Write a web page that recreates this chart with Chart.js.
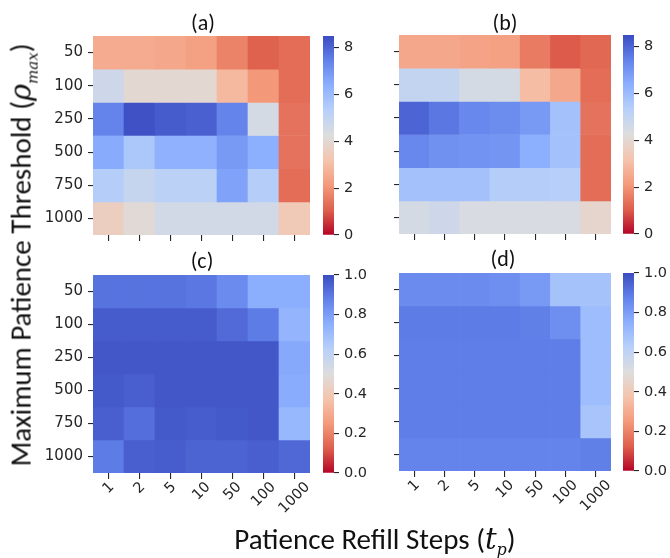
<!DOCTYPE html>
<html>
<head>
<meta charset="utf-8">
<script src="https://cdn.jsdelivr.net/npm/chart.js@4.4.1/dist/chart.umd.min.js"></script>
<style>
  body { margin: 0; background: #fff; }
  #fig { position: relative; width: 670px; height: 558px; overflow: hidden; font-family: Carlito, Calibri, Lato, sans-serif; color: #111; }
  #fig canvas { position: absolute; }
  .ttl { position: absolute; font-size: 22px; line-height: 22px; transform: translate(-50%, -50%); white-space: nowrap; }
  .axt { position: absolute; white-space: nowrap; transform: translate(-50%, -50%); }
  .axt i { font-family: "DejaVu Serif", serif; }
</style>
</head>
<body>
<div id="fig">
  <canvas id="hmA"></canvas><canvas id="cbA"></canvas>
  <canvas id="hmB"></canvas><canvas id="cbB"></canvas>
  <canvas id="hmC"></canvas><canvas id="cbC"></canvas>
  <canvas id="hmD"></canvas><canvas id="cbD"></canvas>
  <div class="ttl" style="left:203px;top:23px">(a)</div>
  <div class="ttl" style="left:505px;top:23px">(b)</div>
  <div class="ttl" style="left:202px;top:261px">(c)</div>
  <div class="ttl" style="left:503px;top:259px">(d)</div>
  <div class="axt" style="left:22px;top:255px;font-size:29px;transform:translate(-50%,-50%) rotate(-90deg)">Maximum Patience Threshold (<i>ρ</i><sub style="font-size:15px"><i>max</i></sub>)</div>
  <div class="axt" style="left:375px;top:540px;font-size:29px">Patience Refill Steps (<i>t</i><sub style="font-size:16px"><i>p</i></sub>)</div>
</div>
<script>
// columns: patience refill steps, rows: max patience threshold (top to bottom)
const refillSteps = ['1', '2', '5', '10', '50', '100', '1000'];
const thresholds = ['50', '100', '250', '500', '750', '1000'];

const panelA = [
  [2.55, 2.55, 2.45, 2.3, 1.7, 1.1, 1.3],
  [4.7, 4.0, 4.0, 4.0, 2.9, 2.1, 1.3],
  [7.4, 8.4, 8.2, 8.1, 7.4, 4.5, 1.4],
  [6.5, 5.6, 6.3, 6.3, 6.9, 6.4, 1.4],
  [5.4, 4.9, 5.2, 5.2, 6.7, 5.4, 1.3],
  [3.6, 4.1, 4.6, 4.6, 4.6, 4.6, 3.4],
];
const panelB = [
  [2.45, 2.45, 2.35, 2.3, 1.55, 1.0, 1.2],
  [5.0, 5.0, 4.5, 4.5, 3.0, 2.45, 1.3],
  [8.0, 7.65, 7.3, 7.2, 6.9, 5.8, 1.4],
  [7.3, 7.1, 7.05, 7.0, 6.4, 5.8, 1.3],
  [5.8, 5.8, 5.8, 5.4, 5.4, 5.3, 1.3],
  [4.5, 4.7, 4.4, 4.4, 4.4, 4.4, 3.9],
];
const panelC = [
  [0.91, 0.91, 0.91, 0.9, 0.85, 0.755, 0.755],
  [0.965, 0.965, 0.965, 0.965, 0.93, 0.89, 0.73],
  [0.975, 0.975, 0.975, 0.975, 0.975, 0.975, 0.77],
  [0.97, 0.955, 0.975, 0.975, 0.975, 0.975, 0.76],
  [0.955, 0.92, 0.97, 0.96, 0.97, 0.975, 0.72],
  [0.89, 0.955, 0.96, 0.945, 0.945, 0.955, 0.935],
];
const panelD = [
  [0.85, 0.85, 0.85, 0.84, 0.81, 0.68, 0.68],
  [0.89, 0.89, 0.89, 0.89, 0.88, 0.84, 0.70],
  [0.885, 0.885, 0.885, 0.885, 0.885, 0.885, 0.70],
  [0.885, 0.885, 0.885, 0.885, 0.885, 0.885, 0.70],
  [0.885, 0.885, 0.885, 0.885, 0.885, 0.885, 0.67],
  [0.87, 0.87, 0.87, 0.87, 0.87, 0.87, 0.88],
];

const rewardMax = 8.5;
const rewardTicks = [0, 2, 4, 6, 8];
const rateMax = 1.0;
const rateTicks = [0, 0.2, 0.4, 0.6, 0.8, 1.0];

// coolwarm anchors (t from blue to red)
const coolwarm = [
  [0.0, [59, 76, 192]], [0.125, [98, 130, 234]], [0.25, [141, 176, 254]],
  [0.375, [184, 208, 249]], [0.5, [221, 221, 221]], [0.625, [245, 196, 173]],
  [0.75, [244, 154, 123]], [0.875, [222, 96, 77]], [1.0, [180, 4, 38]],
];

function coolwarmAt(t) {
  t = Math.min(1, Math.max(0, t));
  for (let i = 1; i < coolwarm.length; i++) {
    const [t1, c1] = coolwarm[i];
    const [t0, c0] = coolwarm[i - 1];
    if (t <= t1) {
      const f = (t - t0) / (t1 - t0);
      const c = c0.map((v, k) => Math.round(v + (c1[k] - v) * f));
      return `rgb(${c[0]},${c[1]},${c[2]})`;
    }
  }
  return 'rgb(180,4,38)';
}
// reversed map: low values red, high values blue
const colorFor = (v, vmax) => coolwarmAt(1 - v / vmax);

const TEXT = '#262626';
const FONT = { family: 'DejaVu Sans', size: 14.5 };
Chart.defaults.font.family = FONT.family;
Chart.defaults.font.size = FONT.size;
Chart.defaults.color = TEXT;

const AX_W = 70;  // room for y tick labels
const PAD = 4;

// matplotlib-like rotated (45deg, centred) x tick labels
const rotatedXLabels = {
  id: 'rotatedXLabels',
  afterDraw(chart, args, opts) {
    if (!opts.show) return;
    const x = chart.scales.x;
    const c = chart.ctx;
    c.save();
    c.font = `${FONT.size}px "${FONT.family}"`;
    c.fillStyle = TEXT;
    c.textAlign = 'center';
    c.textBaseline = 'middle';
    x.getLabels().forEach((lab, i) => {
      const px = x.getPixelForTick(i);
      const w = c.measureText(lab).width;
      const half = (w + 11) * Math.SQRT1_2 / 2;
      c.save();
      c.translate(px, x.top + 8 + half);
      c.rotate(-Math.PI / 4);
      c.fillText(lab, 0, 0);
      c.restore();
    });
    c.restore();
  }
};

function makeHeatmap(id, values, vmax, geo, showY, showX) {
  const axH = showX ? 60 : 14;
  const cv = document.getElementById(id);
  cv.width = AX_W + geo.w + PAD;
  cv.height = PAD + geo.h + axH;
  cv.style.left = (geo.left - AX_W) + 'px';
  cv.style.top = (geo.top - PAD) + 'px';
  const n = thresholds.length;
  const tickGrid = { display: true, drawOnChartArea: false, drawTicks: true, tickLength: 5, color: TEXT, lineWidth: 1.1, offset: false };
  new Chart(cv, {
    type: 'bar',
    data: {
      labels: refillSteps,
      datasets: thresholds.map((th, r) => ({
        label: th,
        data: refillSteps.map(() => [n - 1 - r, n - r]),
        backgroundColor: values[r].map(v => colorFor(v, vmax)),
        borderWidth: 0,
        barPercentage: 1,
        categoryPercentage: 1,
        grouped: false,
      })),
    },
    options: {
      responsive: false,
      animation: false,
      events: [],
      layout: { padding: { top: PAD, right: PAD, left: 0, bottom: 0 } },
      plugins: { legend: { display: false }, tooltip: { enabled: false }, rotatedXLabels: { show: showX } },
      scales: {
        x: {
          type: 'category',
          offset: true,
          grid: { ...tickGrid, tickLength: 6 },
          border: { display: false },
          ticks: { display: false },
          afterFit: s => { s.height = axH; s.paddingLeft = 0; s.paddingRight = 0; },
        },
        y: {
          type: 'linear',
          min: 0,
          max: n,
          grid: tickGrid,
          border: { display: false },
          ticks: {
            display: showY,
            autoSkip: false,
            padding: 5,
            font: { size: 15 },
            callback: v => thresholds[n - 1 - Math.floor(v)],
          },
          afterBuildTicks: s => { s.ticks = thresholds.map((_, i) => ({ value: i + 0.5 })); },
          afterFit: s => { s.width = AX_W; s.paddingTop = 0; s.paddingBottom = 0; },
        },
      },
    },
    plugins: [rotatedXLabels],
  });
}

function makeColorbar(id, vmax, ticks, decimals, geo) {
  const cv = document.getElementById(id);
  const axR = 50;
  const padV = 12;
  cv.width = geo.w + axR;
  cv.height = geo.h + 2 * padV;
  cv.style.left = geo.left + 'px';
  cv.style.top = (geo.top - padV) + 'px';
  new Chart(cv, {
    type: 'bar',
    data: {
      labels: [''],
      datasets: [{
        data: [[0, vmax]],
        borderWidth: 0,
        barPercentage: 1,
        categoryPercentage: 1,
        backgroundColor: ctx => {
          const area = ctx.chart.chartArea;
          if (!area) return '#ddd';
          const g = ctx.chart.ctx.createLinearGradient(0, area.bottom, 0, area.top);
          coolwarm.forEach(([t, c]) => g.addColorStop(1 - t, `rgb(${c[0]},${c[1]},${c[2]})`));
          return g;
        },
      }],
    },
    options: {
      responsive: false,
      animation: false,
      events: [],
      layout: { padding: { top: padV, bottom: padV, left: 0, right: 0 } },
      plugins: { legend: { display: false }, tooltip: { enabled: false } },
      scales: {
        x: { display: false },
        y: {
          position: 'right',
          min: 0,
          max: vmax,
          grid: { display: true, drawOnChartArea: false, drawTicks: true, tickLength: 5, color: TEXT, lineWidth: 1.1 },
          border: { display: false },
          ticks: { padding: 5, autoSkip: false, callback: v => v.toFixed(decimals) },
          afterBuildTicks: s => { s.ticks = ticks.map(v => ({ value: v })); },
          afterFit: s => { s.width = axR; s.paddingTop = 0; s.paddingBottom = 0; },
        },
      },
    },
  });
}

makeHeatmap('hmA', panelA, rewardMax, { left: 93, top: 36, w: 217, h: 199 }, true, false);
makeHeatmap('hmB', panelB, rewardMax, { left: 399, top: 35, w: 212, h: 199 }, false, false);
makeHeatmap('hmC', panelC, rateMax, { left: 93, top: 275, w: 217, h: 198 }, true, true);
makeHeatmap('hmD', panelD, rateMax, { left: 399, top: 273, w: 212, h: 198 }, false, true);

makeColorbar('cbA', rewardMax, rewardTicks, 0, { left: 323, top: 36, w: 11, h: 199 });
makeColorbar('cbB', rewardMax, rewardTicks, 0, { left: 623, top: 35, w: 11, h: 199 });
makeColorbar('cbC', rateMax, rateTicks, 1, { left: 323, top: 275, w: 11, h: 198 });
makeColorbar('cbD', rateMax, rateTicks, 1, { left: 623, top: 273, w: 11, h: 198 });
</script>
</body>
</html>
